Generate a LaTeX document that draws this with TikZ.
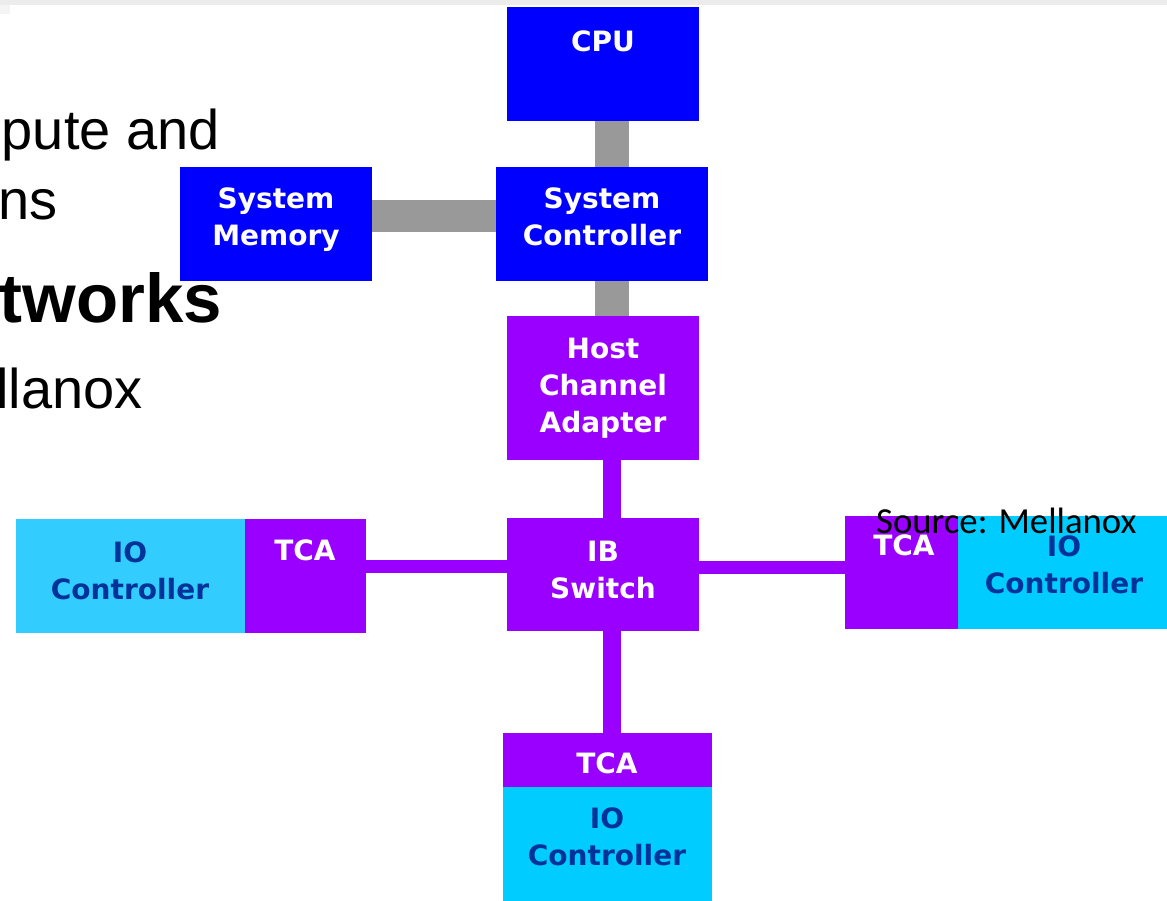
\documentclass[tikz,border=0pt]{standalone}
\usepackage{fontspec}
\setmainfont{Liberation Sans}
\newfontfamily\dvfont{DejaVu Sans}
\newfontfamily\srcfont{Carlito}
\begin{document}
\begin{tikzpicture}[x=1pt,y=-1pt,
  box/.style={rectangle,draw=none,inner sep=0pt,outer sep=0pt,anchor=north west},
  cpublue/.style={box,fill=cpuB},
  ibpurple/.style={box,fill=ibP},
  iobox/.style={box,fill=ioC},
  lbl/.style={anchor=base,inner sep=0pt,align=center,text=white,
    font=\dvfont\bfseries\fontsize{28}{37}\selectfont},
  iolbl/.style={lbl,text=ioT},
  hostlink/.style={draw=linkG,line width=34pt},
  fabric/.style={draw=ibP,line width=18pt},
  fabricthin/.style={draw=ibP,line width=13pt},
  slide/.style={anchor=base east,inner sep=0pt,font=\fontsize{56}{60}\selectfont}
]
\definecolor{cpuB}{RGB}{0,0,255}
\definecolor{ibP}{RGB}{153,0,255}
\definecolor{ioC}{RGB}{0,204,255}
\definecolor{ioCl}{RGB}{51,204,255}
\definecolor{ioT}{RGB}{0,51,153}
\definecolor{linkG}{RGB}{153,153,153}
\definecolor{stripG}{RGB}{236,236,236}

\useasboundingbox (0,0) rectangle (1167,901);
\clip (0,0) rectangle (1167,901);

% slide header strip
\fill[stripG] (0,0) rectangle (1167,5);
\fill[stripG!60] (0,5) rectangle (10,14);

% slide bullet text behind the figure
\node[slide] (s1) at (220,150) {pute and};
\node[slide] (s2) at (58,220) {ns};
\node[slide,font=\bfseries\fontsize{69}{72}\selectfont] (s3) at (222,322) {tworks};
\node[slide] (s4) at (143,408) {llanox};

% host side
\node[cpublue,minimum width=192pt,minimum height=114pt] (cpu) at (507,7) {};
\node[cpublue,minimum width=212pt,minimum height=114pt] (sysctl) at (496,167) {};
\node[cpublue,minimum width=192pt,minimum height=114pt] (sysmem) at (180,167) {};
\node[ibpurple,minimum width=192pt,minimum height=144pt] (hca) at (507,316) {};

% fabric
\node[ibpurple,minimum width=192pt,minimum height=113pt] (ib) at (507,518) {};

% left target
\node[iobox,fill=ioCl,minimum width=229pt,minimum height=114pt] (lio) at (16,519) {};
\node[ibpurple,minimum width=121pt,minimum height=114pt] (ltca) at (245,519) {};

% right target
\node[ibpurple,minimum width=113pt,minimum height=113pt] (rtca) at (845,516) {};
\node[iobox,minimum width=215pt,minimum height=113pt] (rio) at (958,516) {};

% bottom target
\node[ibpurple,minimum width=209pt,minimum height=54pt] (btca) at (503,733) {};
\node[iobox,minimum width=209pt,minimum height=120pt] (bio) at (503,787) {};

% links
\coordinate (cj) at ([xshift=9pt]cpu.south);
\draw[hostlink] (cj) -- (cj |- sysctl.north);
\draw[hostlink] (sysctl.south -| cj) -- (hca.north -| cj);
\coordinate (mj) at ([yshift=8pt]sysmem.east);
\draw[hostlink,line width=32pt] (mj) -- (mj -| sysctl.west);
\draw[fabric] (hca.south -| cj) -- (ib.north -| cj);
\coordinate (bj) at ([xshift=9pt]ib.south);
\draw[fabric] (bj) -- (bj |- btca.north);
\coordinate (lj) at ([yshift=8pt]ib.west);
\draw[fabricthin] (lj) -- (lj -| ltca.east);
\coordinate (rj) at ([yshift=7.5pt]ib.east);
\draw[fabricthin] (rj) -- (rj -| rtca.west);

% labels (anchored at the baseline of the last line)
\node[lbl] (tcpu) at (603,52) {CPU};
\node[lbl] (tsysctl) at (602,246) {System\\Controller};
\node[lbl] (tsysmem) at (276,246) {System\\Memory};
\node[lbl] (thca) at (603,432) {Host\\Channel\\Adapter};
\node[lbl] (tib) at (603,598) {IB\\Switch};
\node[iolbl] (tlio) at (130,599) {IO\\Controller};
\node[lbl] (tltca) at (305,560) {TCA};
\node[lbl] (trtca) at (904,555) {TCA};
\node[iolbl] (trio) at (1064,593) {IO\\Controller};
\node[lbl] (tbtca) at (607,773) {TCA};
\node[iolbl] (tbio) at (607,865) {IO\\Controller};

% source note
\node[anchor=base west,inner sep=0pt,font=\srcfont\fontsize{36.7}{40}\selectfont] (src) at (876,533) {Source: Mellanox};
\end{tikzpicture}
\end{document}
